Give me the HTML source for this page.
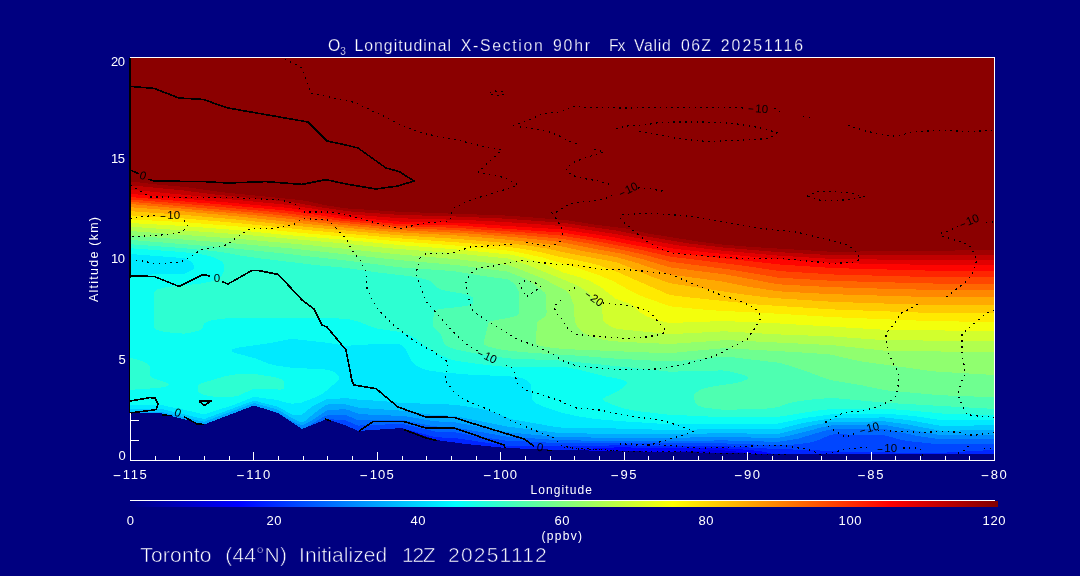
<!DOCTYPE html>
<html lang="en"><head><meta charset="utf-8"><title>O3 Longitudinal X-Section</title>
<style>html,body{margin:0;padding:0;background:#000080;overflow:hidden}svg{display:block}text{font-family:"Liberation Sans",sans-serif;fill:#fff;stroke:#000080;stroke-width:0}.t1 text{stroke-width:.25px}.t2 text{stroke-width:.6px}</style></head>
<body>
<svg width="1080" height="576" viewBox="0 0 1080 576" shape-rendering="crispEdges">
<rect width="1080" height="576" fill="#000080"/>
<g><rect x="130" y="57" width="865" height="403" fill="#0000a0"/>
<path fill="#0000c1" d="M130,57L994,57L994,459L130,459Z"/>
<path fill="#0000e2" d="M130,57L994,57L994,459L733.1,459L733,457L731.6,455L726,453.2L722,452.9L707.1,455L705.9,457L705.9,459L130,459Z"/>
<path fill="#0004ff" d="M130,57L994,57L994,459L754,459L753.8,457L752.5,455L746.7,453L732.3,451L722,450.3L682,450.9L668,452.2L616,451.3L611,453L610.1,455L610.1,459L130,459Z"/>
<path fill="#0025ff" d="M130,57L994,57L994,459L774.9,459L774.8,457L773.7,455L769.6,453L759.2,451L740,449.2L722,448.2L616,447.4L582.2,449L571.2,451L568.5,453L568.3,459L130,459Z"/>
<path fill="#0046ff" d="M130,57L994,57L994,449.9L940,452.9L900,452.6L832,451.4L814,450.1L778,449.1L724,446.1L616,445.4L562,446.3L508,445.9L454,437.9L436,437.3L402,428L358,431.3L346,427.2L344.7,429L344.6,459L130,459Z"/>
<path fill="#0067ff" d="M130,57L994,57L994,443.8L938,444.2L908,441.1L900,439.5L884,435.1L834,434.3L830.2,435L818,440.3L810,442.5L798,444.2L780,445.5L724,443.4L560,443.2L506,440.6L474,435.8L454,432.1L436,431.7L402,423.8L358,425.6L346,420.5L330,419.2L328,419.4L326,420.4L323.8,423L323.5,459L130,459Z"/>
<path fill="#0088ff" d="M130,57L994,57L994,438.9L940,439.2L918,436.1L886,429.2L834,429L823.8,431L798,438.7L778,441.9L724,440.4L668,441L562,440.4L506,436.5L454,427.2L434,426.4L402,419.9L360,420.4L356,419.4L346,415L328,415.1L324,416.6L309.8,425L304.5,429L302.9,431L302.6,459L130,459Z"/>
<path fill="#00a9ff" d="M130,57L994,57L994,434.6L940,435L886,425.2L836,425.3L832,425.4L823.3,427L790,435.6L778,438L724,437L670,437.8L562,437.4L508,432.3L456,422.5L434,421.2L404,415.9L380,415.2L360,414L356,413L348,409.8L344,409.1L328,410.3L326,411.1L310.8,421L302,425.4L294,422.1L278,412.8L271.8,411L262,409.6L260,409.7L257.8,411L257.7,459L130,459Z"/>
<path fill="#00caff" d="M130,57L994,57L994,430.2L940,430.7L908,424.5L884,421.3L830,422.2L812,425.4L780,433.5L776,433.9L724,433.2L670,434.2L562,433.3L508,426.7L454,415.8L434,415L402,410.7L360,407.9L344,404.1L330,404.1L326,404.9L319.8,409L304.9,421L302,422.3L298,421.2L292,418.2L278,409.7L254,403L204,421.8L160,411.6L130,412.6Z"/>
<path fill="#00eaff" d="M130,57L994,57L994,425.4L940,425.7L910,420.3L884,417.4L830,418.6L804,422.8L780,428.9L776,429.5L724,429L670,430L616,428.5L564,427.8L556,427L510.6,419L496,413.1L488,410.6L478,408.3L462,405.7L452,404.6L400,402.8L382,401L358,399.7L346,398.2L326,399.3L312,406.6L302,414.6L298,415.4L292,414.7L280,407.8L276,406.2L254,400.6L204,419.1L160,408.6L130,408.6Z"/>
<path fill="#0cfff3" d="M130,57L994,57L994,420.5L940,419.9L912,415.8L884,413.5L830,414.5L804,418.1L776,424L670,424.3L618.2,421L595.6,419L578,416.3L562,412.9L544.1,407L536,403.3L533,401L531.7,399L531.3,385L527.6,381L524.5,379L522,378.3L516.6,377L510,376.4L468,374.5L442,372.4L430,370.7L422,368.6L418,366.8L413.2,363L410,358.5L405.8,349L404,347L400,344.4L396,344L368,344.5L346,345.8L329.5,343L292,338.8L268,343.4L238,347.6L232.7,349L231.2,351L236,353.2L256,358.5L266.9,363L273.1,365L292,367.8L324,369.3L330,370.4L334,371.7L338,374.9L339,377L339,379L337.6,381L323.6,393L315.8,397L302,402.5L292,403.8L286,402.6L278,400.1L254,396.9L233.4,405L204,414.4L184,409.7L162,405.2L130,405.2L130,275L184,273.8L190.6,271L193.4,269L194.4,267L193.8,265L192.4,263L190,261L184,258.1L130,254Z"/>
<path fill="#2dffd2" d="M130,57L994,57L994,415.1L942,413.5L914,410.8L886,408.8L836,408.7L820,410.2L776,417.2L722,417.2L668,414.6L636.8,411L625.8,409L616,406L604.2,401L602.8,399L605.3,397L618,391.1L622,388.3L626,384.4L627,383L626,381L619.9,379L604,376.1L576.3,369L564,366.9L508,367.2L478,364L454,360.4L446,357.7L438,353.8L423.5,345L416,338.6L408,334.4L400,332L379.2,329L372,327L360,322.1L348,319.1L336,318.3L306,317.7L234,317.8L219.2,319L208.5,321L204.7,323L201.8,329L197.7,331L188.6,333L184,333.6L173.9,333L164,331.8L158,330.3L155.1,329L154,327L154,295L154.8,291L158.3,289L167.2,287L200,283.7L213.1,281L218,278.8L222,275.3L224.1,271L224.5,267L223.2,263L221.3,261L212.7,257L205.4,255L184,252.2L130,248.2ZM130,359L130,357.7L135.5,359L144,362L148,364.2L149.1,365L150,367L150.1,375L151.2,377L155.2,379L167.1,383L169,385L166,386.7L164,387.2L146,388.9L130,389.8ZM231.2,375L238,374L254,373.9L273.7,377L281.2,379L283.9,381L284,389L280,389.6L254,388.6L238,395.9L228,397.4L216,397.1L204.2,395L199.7,393L198.1,391L198,387L198.5,385L202.3,383L222.2,377Z"/>
<path fill="#4effb1" d="M130,57L994,57L994,408.9L888.8,403L832,397.9L812,399.5L798,401.3L788,403.4L778,407.1L766,408.6L724,409.9L704,407.5L696.9,405L695.4,403L693.6,397L693.7,395L695.2,393L700,390L706,387.9L714,386.2L734,383.4L742,381.5L746,379.9L747.7,379L747.9,377L743.9,375L736.6,373L726,370.7L722,370.4L670,371.7L564,360.7L508,358.4L476,353.5L456,349.5L449,347L445.5,345L444,343L441,335L439.5,333L433.2,327L432.8,323L434.3,311L439.1,309L458.7,307L470.8,305L473.2,303L473.3,299L472.4,297L468.5,295L459.5,293L446.4,291L439.4,289L436.4,287L430.2,281L425.1,279L412,276.5L374,272L346,267.9L318,265.3L258,258.1L240,255.5L227.9,253L212.8,251L184,248.2L130,244.2Z"/>
<path fill="#6fff90" d="M130,57L994,57L994,397.3L940,395.2L886,390.3L862,385.4L830,380L802,369.7L780.7,363L730.4,357L722,356.6L694,359.8L668,361.4L616,358.7L580,355.8L533.5,353L510,350.9L498.2,349L489.3,347L484.6,345L483.6,343L488.4,323L491.2,321L512.9,317L517.9,315L519.3,313L519.3,295L518.4,291L515.6,285L510.9,281L508,279.4L482,275.8L452.7,271L400,267.4L350.4,261L279.3,253L220,247.1L130,239.9Z"/>
<path fill="#90ff6f" d="M130,57L994,57L994,375L934,371.4L864,361.8L850,359.1L832,354.7L811.2,353L724,348.1L668,353.3L563.2,349L545.8,347L537.4,345L535.6,343L537.1,323L538.4,321L544.4,317L546.1,315L546.6,313L546.1,295L545.2,293L535.3,285L525.8,279L508,271.7L456,265L400,260.2L292,248.5L232,243.2L130,235.5Z"/>
<path fill="#b1ff4e" d="M130,57L994,57L994,352.2L886,350.8L832,345.1L726,340.1L670,344L622,341.8L610,340.8L599.5,339L590,336.1L584,333L579.2,329L576.3,325L574.8,321L573.7,305L570.2,295L569.1,293L566.5,291L543.8,279L520,269.4L508,265.1L458,259.3L400,254.5L307.7,245L238,238.8L130,231Z"/>
<path fill="#d2ff2d" d="M130,57L994,57L994,340.9L886,340.3L832,336.4L778,334.4L724,331.3L670,334.2L618,329L611.8,327L605.1,323L603.5,321L602.9,319L602,307L601.3,305L593.6,299L588.8,293L583.3,289L576,285L567.1,281L527.3,265L508,258.5L454,253.2L390,248.3L344,243.5L238,234.2L130,226.7Z"/>
<path fill="#f3ff0c" d="M130,57L994,57L994,331L886,329.9L778,323.4L724,321L669.7,323L656,320.1L646,316.1L640,312.2L632,305L627.8,303L616,298.9L600.7,287L590,281L579.2,277L562,272.1L546.6,265L535.6,261L521.8,257L510,254.5L454,249.2L400,245.1L346,239.9L284,234.8L238,230.2L182,225.9L130,223Z"/>
<path fill="#ffea00" d="M130,57L994,57L994,321.7L938,321.4L832,317.1L778,313.7L710,310.2L672,306.6L668,305.6L642,296.3L631,291L612.9,281L598,274.8L572,266.2L542,257.3L512,251L454,245.4L400,241.5L298,232.6L238,226.5L184,222.1L130,219.4Z"/>
<path fill="#ffca00" d="M130,57L994,57L994,313.5L940,313.3L832,309.4L758,304.6L692,297.7L672,295.3L668,294.2L616,271.4L598.3,265L590.5,263L562,257.4L540,252L518,248.1L506,246.6L466,243L398,238.2L318,231.1L238,223.1L186,218.6L130,215.4Z"/>
<path fill="#ffa900" d="M130,57L994,57L994,305.4L940,305.3L834,301.9L770,297.8L740,294L670,283.2L652,276.8L623.8,265L616,262.2L570,253.6L546,248.4L526,245.3L506,243L456,238.8L398,235.2L316,227.8L238,219.7L184,214.9L130,211.2Z"/>
<path fill="#ff8800" d="M130,57L994,57L994,297.4L938,297.3L832,294.2L778,291.3L748,286.7L722,281.5L670,274.5L637.1,263L616.3,257L582,250.9L560,246L546,243.9L500.4,239L454,235.3L400,232.5L370,230L312,224.5L238,216.4L184,211.4L130,207.2Z"/>
<path fill="#ff6700" d="M130,57L994,57L994,290.1L940,290.1L884,288.7L832,287.2L778,284.3L726,274.5L670,267.4L642.1,259L620,253.3L594,248.8L560,241.9L512.9,237L461,233L400,230.2L378,228.4L320,222.8L292,219.1L238,213.6L130,204Z"/>
<path fill="#ff4600" d="M130,57L994,57L994,283.7L940,283.7L834,280.9L778,277.6L732,269.8L670,261.7L645.2,255L628,251.1L586.3,243L562,238.9L521.7,235L460,230.5L392,227.5L330,221.6L292,216.5L256,212.8L130,201.7Z"/>
<path fill="#ff2500" d="M130,57L994,57L994,277.3L940,277.3L834,274.5L780,271.1L740,265.2L670,256.6L646.1,251L622,246.2L592,240.5L562,235.7L526,232.6L456,227.8L398,226.1L338,220.4L292,213.9L272,211.8L206,205.7L130,199.4Z"/>
<path fill="#ff0400" d="M130,57L994,57L994,270.9L940,270.9L834,268.1L780,264.5L672,252.5L608,239.9L562,232.6L458,225.5L400,224.2L344.2,219L294,211.5L278,209.8L212,203.7L130,197Z"/>
<path fill="#e20000" d="M130,57L994,57L994,265.1L940,265.1L834,263L778,259.2L702,251.9L672,248.4L612,237L562,229.4L456,222.7L400,221.6L346,216.8L288,207.9L130,193.8Z"/>
<path fill="#c10000" d="M130,57L994,57L994,259.9L940,260.1L834,259.1L778,255.6L718,250.2L678,245.4L614,233.8L562,226L508,222.2L468,220.1L400,218.3L348,214.2L290,205.1L130,189.6Z"/>
<path fill="#a00000" d="M130,57L994,57L994,254.6L834,255.3L778,252.1L724,247.6L690,243.6L638.4,235L616,230.5L562,222.7L506,218.7L454,216.4L400,214.9L348,211.3L318.8,207L292,202.1L212,194.2L182,190.3L130,185.3Z"/>
<path fill="#8b0000" d="M130,57L994,57L994,250.1L832,251.8L752.6,247L722,244.5L700,241.8L648,233.5L628,228.8L597.7,225L566,220.1L508,215.6L400,211.8L346,208.4L324.1,205L310,201.7L300,200L222,192.2L186,187L161.4,185L130,181.4Z"/>
<path fill="#000080" d="M130,413L160,413L204,424.5L254,405.5L278,413L302,429L327,419L346,425.5L358,431L402,428L436,440L466,444L506,448L562,450L670,452L778,454L994,454.5L995,461 L130,461 Z"/></g>
<g fill="none" stroke="#000" stroke-width="1.6" stroke-linejoin="round">
<path d="M130,86.4L154,88.4L179,98L203,99.4L228,108L308,122L327,141L346,145L358,148L386,168L399,171.5L414,181L398,186L376,189L346,184L326,179.6L302,184.4L266,181.6L228,183L204,181.6L154,181L148,179.2M130,170L139,173.7M130,276L154,276.4L179,286.4L203,274.6L210,276M222,281.6L228,284L252,270.4L258,270.4L278,274.4L290,287L302,300L314,309L322,325L327,327L346,350L352,381L354,385L376,388.6L398,407L426,417L454,417.4L466,421.4L524,439L534,446M547,450.4L552,450.4M359,431L373,421.6L404,421.6L426,428L454,428L504,445L505,448M404,429.6L426,438L437,440.6M130,401L150,397.6L155,398L158,404L156,409.6L130,413M199,401L211,401L204,405.6L199,401M162,415L172,415.6M184,416.6L197,424L204,424.4M325,419L331,421"/>
</g>
<g fill="none" stroke="#000" stroke-width="1.2" stroke-dasharray="1.5 4.3">
<path d="M285,59L302,68L311,93L321,95L339,99.4L350,101.4L355,102.6L369,109.4L382,115.4L392,120.6L404,126.4L423,133.4L444,137.4L457,140L487,147.4L502,150L478,172L506,178L518,185L510,188L468,201L454,208L452,212L450,221L426,223L400,228.4L386,226L366,220L346,215L330,212L304,212L300,209L296,205L282,200L228,197.4L150,197L139,190L130,185M490,93L494,91L502,91.5L505,93.5L500,96L493,95L490,93M513,126L527,120.6L543,113.6L561,112L565,110L575,106L586,107.6L626,108L670,107.4L726,107.4L745,108M774,108L778,111.4L784,112.4M803,116.4L814,118.4M848,125.4L858,128.4L867,131.4L877,133.4L887,135.4L897,136.4L907,133.4L916,131.4L926,131L945,130.6L971,131.4L994,130.6M520,127L534,128.4L548,131.4L562,137L565,139L579,145M594,149.4L604,152L594,155L582,159L572,163L566,169L571,175L586,179L599,181L610,184.4M638,188L650,188.6L664,191.4M612,195L604,199.4L588,201.6L575,202.4L565,206.4L557,212L552,213L558,221L562,230L564,238M616,128.4L630,125.4L644,125L660,122.4L672,122L704,122L734,123.4L758,127.4L777,132.4L769,138.4L756,139.4L736,140.4L706,141.4L676,138.4L662,135.4L648,133L636,131M130,218.4L156,215M184,220.6L188,226L182,232L170,234.4L130,237M130,260L142,261L156,263.6L180,262.4L192,256L200,250L226,245L250,228.6L270,228.6L294,224.4L302,218.4L328,220L338,230L346,239L352,250L360,260L366,272L367,289L376,307L392,324L414,341L434,352L448,362L445,380L454,392L463,399L476,404.4L494,412L516,423L554,438L562,446L578,449L598,449.6L614,450.6M420,258L426,253.6L432,253.4L446,254L456,252L470,247L512,244.4M526,242.4L550,246.4L562,241M420,258L416,273L419,282L421,287L426,301L438,315L456,335L470,347L478,351M506,365L514,369L517,383L526,390L558,400L576,408L596,409.4L616,413.4L631,416.4L645,418L664,421L675,424.4L694,431.4L685,434.4L666,440L650,445L620,443.6M620,443.6L623,445.4L631,443.6L633,445.4L641,444.4L645,445.4L651,444.4L656,443.6L661,445.4L671,445.4L681,446.4L691,447.4L701,448.4L716,447.4L726,447.4L741,446.4L771,445.4L786,446L801,448.4L811,450.4L816,452.4L821,455M564,447.4L579,448.4L599,449.4L614,450.4L624,451.4L679,451.4L699,452.4L719,453.4L749,453.4L759,454.4L790,454.4M622,214.4L628,214.4L642,213.4L652,213.4L666,214.4L682,215.4L698,217.6L728,223L740,225.4L770,229.4L796,232L811,235.6L835,241.4L849,245.4L856,252L860,259.4L852,262.4L832,263.4L791,259.4L778,258.4L742,258.4L710,256.4L686,254.4L672,253L658,247.6L645,240L626,224.4L620,218L622,214.4M807,196.4L815,192L824,191.4L839,192L849,193L855,194.4L861,196.4L865,196.4L856,198L846,200L821,200.4L812,197.6L807,196.4M572,265L582,266L588,267.4L602,269.4L632,270L652,272L671,274.4L680,278.4L690,282.4L703,288L722,295.4L741,301.4L750,305.4L759,311.4L761,318L755,328L747,339.4L736,345L716,355.4L702,360L682,365L658,369L622,370L594,367.4L578,366.4L564,361.4L551,353L538,347L519,340L502,330L484,319L473,311L468,297L466,282L470,274L477,268.4L496,265.6L520,260.4L554,264L572,265M569,291L576,287M603,303L618,304.6L628,305.4L644,309.4L651,313L655,318L665,329.6L665,332.6L656,335.4L646,337L626,338.4L611,337.4L586,335.4L576,334.4L568,329.4L561,318L556,313L554,306L560,301L562,298M519,284L525,280.6L530,281.6L538,283.6L541,287L538,289L526,297L522,289L519,284M986,222.4L994,222M958,226L950,230.4L940,233.4L943,236.4L953,239.4L967,244.4L971,247.4L975,256L977,260L975,265L972,274.4L966,281.4L958,288L946,297M918,304.4L909,309L900,314L898,319L888,331L886,334.4L886,339.4L889,354L893,363L898,372L899,376.4L898,386.4L896,396L893,399.4L887,402.4L874,408L860,411L844,412.4L835,417L826,421.4L826,424.4L830,428L842,435L845,437.4L858,432.4M878,430.4L898,431.4L923,432.4L948,431.4L958,432.4L967,435L976,435L994,432.4M994,310L985,314.4L977,321.4L966,330.4L962,334.4L962,355L964,364.4L965,374.4L961,383L958,392.4L959,398L961,402.4L964,410L967,414.4L972,415.4L982,416.4L994,417M826,454L831,453L844,449.4L859,448L869,447.4M903,448L918,448L921,450L923,455.4M958,453.4L963,451L967,449L969,444.4M984,448.4L994,449"/>
</g>
<g style="font-size:11.5px" text-anchor="middle">
<text x="143" y="179.5" transform="rotate(18 143 175.5)" style="fill:#000;stroke:none">0</text>
<text x="217" y="282" transform="rotate(0 217 278)" style="fill:#000;stroke:none">0</text>
<text x="178" y="416.5" transform="rotate(20 178 412.5)" style="fill:#000;stroke:none">0</text>
<text x="540" y="451" transform="rotate(10 540 447)" style="fill:#000;stroke:none">0</text>
<text x="170" y="219" transform="rotate(0 170 215)" style="fill:#000;stroke:none"><tspan textLength="6.5" lengthAdjust="spacingAndGlyphs">-</tspan><tspan dx="1">10</tspan></text>
<text x="758" y="112.5" transform="rotate(4 758 108.5)" style="fill:#000;stroke:none"><tspan textLength="6.5" lengthAdjust="spacingAndGlyphs">-</tspan><tspan dx="1">10</tspan></text>
<text x="628" y="193.5" transform="rotate(-25 628 189.5)" style="fill:#000;stroke:none"><tspan textLength="6.5" lengthAdjust="spacingAndGlyphs">-</tspan><tspan dx="1">10</tspan></text>
<text x="969" y="225" transform="rotate(-22 969 221)" style="fill:#000;stroke:none"><tspan textLength="6.5" lengthAdjust="spacingAndGlyphs">-</tspan><tspan dx="1">10</tspan></text>
<text x="594" y="302" transform="rotate(35 594 298)" style="fill:#000;stroke:none"><tspan textLength="6.5" lengthAdjust="spacingAndGlyphs">-</tspan><tspan dx="1">20</tspan></text>
<text x="487" y="360" transform="rotate(25 487 356)" style="fill:#000;stroke:none"><tspan textLength="6.5" lengthAdjust="spacingAndGlyphs">-</tspan><tspan dx="1">10</tspan></text>
<text x="869" y="432" transform="rotate(-15 869 428)" style="fill:#000;stroke:none"><tspan textLength="6.5" lengthAdjust="spacingAndGlyphs">-</tspan><tspan dx="1">10</tspan></text>
<text x="887" y="451.5" transform="rotate(0 887 447.5)" style="fill:#000;stroke:none"><tspan textLength="6.5" lengthAdjust="spacingAndGlyphs">-</tspan><tspan dx="1">10</tspan></text>
</g>
<rect x="129" y="58" width="2" height="220" fill="#000"/>
<rect x="129" y="278" width="1.2" height="135" fill="#000"/>
<g fill="#fff">
<rect x="130" y="57" width="865" height="1"/>
<rect x="994" y="57" width="1" height="404"/>
<rect x="130" y="460" width="865" height="1"/>
<rect x="130" y="413" width="1" height="48"/>
<rect x="155" y="456" width="1" height="4"/>
<rect x="179" y="456" width="1" height="4"/>
<rect x="204" y="456" width="1" height="4"/>
<rect x="229" y="456" width="1" height="4"/>
<rect x="253" y="452" width="1" height="8"/>
<rect x="278" y="456" width="1" height="4"/>
<rect x="303" y="456" width="1" height="4"/>
<rect x="327" y="456" width="1" height="4"/>
<rect x="352" y="456" width="1" height="4"/>
<rect x="377" y="452" width="1" height="8"/>
<rect x="402" y="456" width="1" height="4"/>
<rect x="426" y="456" width="1" height="4"/>
<rect x="451" y="456" width="1" height="4"/>
<rect x="476" y="456" width="1" height="4"/>
<rect x="500" y="452" width="1" height="8"/>
<rect x="525" y="456" width="1" height="4"/>
<rect x="550" y="456" width="1" height="4"/>
<rect x="574" y="456" width="1" height="4"/>
<rect x="599" y="456" width="1" height="4"/>
<rect x="624" y="452" width="1" height="8"/>
<rect x="648" y="456" width="1" height="4"/>
<rect x="673" y="456" width="1" height="4"/>
<rect x="698" y="456" width="1" height="4"/>
<rect x="722" y="456" width="1" height="4"/>
<rect x="747" y="452" width="1" height="8"/>
<rect x="772" y="456" width="1" height="4"/>
<rect x="797" y="456" width="1" height="4"/>
<rect x="821" y="456" width="1" height="4"/>
<rect x="846" y="456" width="1" height="4"/>
<rect x="871" y="452" width="1" height="8"/>
<rect x="895" y="456" width="1" height="4"/>
<rect x="920" y="456" width="1" height="4"/>
<rect x="945" y="456" width="1" height="4"/>
<rect x="969" y="456" width="1" height="4"/>
<rect x="130" y="440" width="9" height="1"/>
<rect x="130" y="420" width="9" height="1"/>
</g>
<defs><linearGradient id="cb" x1="0" x2="1" y1="0" y2="0">
<stop offset="0" stop-color="#000080"/>
<stop offset="0.025" stop-color="#000099"/>
<stop offset="0.05" stop-color="#0000b2"/>
<stop offset="0.075" stop-color="#0000cc"/>
<stop offset="0.1" stop-color="#0000e6"/>
<stop offset="0.125" stop-color="#0000ff"/>
<stop offset="0.15" stop-color="#001aff"/>
<stop offset="0.175" stop-color="#0033ff"/>
<stop offset="0.2" stop-color="#004dff"/>
<stop offset="0.225" stop-color="#0066ff"/>
<stop offset="0.25" stop-color="#0080ff"/>
<stop offset="0.275" stop-color="#0099ff"/>
<stop offset="0.3" stop-color="#00b2ff"/>
<stop offset="0.325" stop-color="#00ccff"/>
<stop offset="0.35" stop-color="#00e5ff"/>
<stop offset="0.375" stop-color="#00ffff"/>
<stop offset="0.4" stop-color="#1affe5"/>
<stop offset="0.425" stop-color="#33ffcc"/>
<stop offset="0.45" stop-color="#4dffb2"/>
<stop offset="0.475" stop-color="#66ff99"/>
<stop offset="0.5" stop-color="#80ff80"/>
<stop offset="0.525" stop-color="#99ff66"/>
<stop offset="0.55" stop-color="#b3ff4c"/>
<stop offset="0.575" stop-color="#ccff33"/>
<stop offset="0.6" stop-color="#e5ff1a"/>
<stop offset="0.625" stop-color="#ffff00"/>
<stop offset="0.65" stop-color="#ffe500"/>
<stop offset="0.675" stop-color="#ffcc00"/>
<stop offset="0.7" stop-color="#ffb300"/>
<stop offset="0.725" stop-color="#ff9900"/>
<stop offset="0.75" stop-color="#ff8000"/>
<stop offset="0.775" stop-color="#ff6600"/>
<stop offset="0.8" stop-color="#ff4c00"/>
<stop offset="0.825" stop-color="#ff3300"/>
<stop offset="0.85" stop-color="#ff1a00"/>
<stop offset="0.875" stop-color="#ff0000"/>
<stop offset="0.9" stop-color="#e50000"/>
<stop offset="0.925" stop-color="#cc0000"/>
<stop offset="0.95" stop-color="#b30000"/>
<stop offset="0.975" stop-color="#990000"/>
<stop offset="1" stop-color="#800000"/>
</linearGradient></defs>
<rect x="130" y="501" width="868" height="6" fill="url(#cb)"/>
<rect x="130" y="500" width="865" height="1" fill="#fff"/>
<g class="t1">
<text y="50.5" style="font-size:15.8px"><tspan x="328">O</tspan><tspan dy="4" style="font-size:10px">3</tspan><tspan dy="-4"> </tspan><tspan x="354.4" textLength="96.6" lengthAdjust="spacing">Longitudinal</tspan> <tspan x="460.8" textLength="81.9" lengthAdjust="spacing">X-Section</tspan> <tspan x="553" textLength="37" lengthAdjust="spacing">90hr</tspan> <tspan x="608.9" textLength="16.6" lengthAdjust="spacing">Fx</tspan> <tspan x="634" textLength="36.7" lengthAdjust="spacing">Valid</tspan> <tspan x="681" textLength="30" lengthAdjust="spacing">06Z</tspan> <tspan x="720.8" textLength="82.2" lengthAdjust="spacing">20251116</tspan></text>
</g>
<g>
<text x="112.5" y="479" style="font-size:13px"><tspan textLength="9" lengthAdjust="spacingAndGlyphs">-</tspan><tspan dx="1.3" textLength="24" lengthAdjust="spacing">115</tspan></text>
<text x="235.929" y="479" style="font-size:13px"><tspan textLength="9" lengthAdjust="spacingAndGlyphs">-</tspan><tspan dx="1.3" textLength="24" lengthAdjust="spacing">110</tspan></text>
<text x="359.357" y="479" style="font-size:13px"><tspan textLength="9" lengthAdjust="spacingAndGlyphs">-</tspan><tspan dx="1.3" textLength="24" lengthAdjust="spacing">105</tspan></text>
<text x="482.786" y="479" style="font-size:13px"><tspan textLength="9" lengthAdjust="spacingAndGlyphs">-</tspan><tspan dx="1.3" textLength="24" lengthAdjust="spacing">100</tspan></text>
<text x="610.214" y="479" style="font-size:13px"><tspan textLength="9" lengthAdjust="spacingAndGlyphs">-</tspan><tspan dx="1.3" textLength="16" lengthAdjust="spacing">95</tspan></text>
<text x="733.643" y="479" style="font-size:13px"><tspan textLength="9" lengthAdjust="spacingAndGlyphs">-</tspan><tspan dx="1.3" textLength="16" lengthAdjust="spacing">90</tspan></text>
<text x="857.071" y="479" style="font-size:13px"><tspan textLength="9" lengthAdjust="spacingAndGlyphs">-</tspan><tspan dx="1.3" textLength="16" lengthAdjust="spacing">85</tspan></text>
<text x="980.5" y="479" style="font-size:13px"><tspan textLength="9" lengthAdjust="spacingAndGlyphs">-</tspan><tspan dx="1.3" textLength="16" lengthAdjust="spacing">80</tspan></text>
<text x="530.5" y="494" text-anchor="start" style="font-size:12px" textLength="61.5" lengthAdjust="spacing">Longitude</text>
</g>
<g>
<text x="118.5" y="460.3" text-anchor="start" style="font-size:13px">0</text>
<text x="118.5" y="364.05" text-anchor="start" style="font-size:13px">5</text>
<text x="111" y="263.3" text-anchor="start" style="font-size:13px" textLength="14" lengthAdjust="spacing">10</text>
<text x="111" y="162.55" text-anchor="start" style="font-size:13px" textLength="14" lengthAdjust="spacing">15</text>
<text x="111" y="65.7" text-anchor="start" style="font-size:13px" textLength="14" lengthAdjust="spacing">20</text>
<text transform="translate(98 302) rotate(-90)" style="font-size:12.5px" textLength="85" lengthAdjust="spacing">Altitude (km)</text>
</g>
<g>
<text x="126.75" y="524.5" text-anchor="start" style="font-size:13px">0</text>
<text x="266.5" y="524.5" text-anchor="start" style="font-size:13px" textLength="15" lengthAdjust="spacing">20</text>
<text x="410.5" y="524.5" text-anchor="start" style="font-size:13px" textLength="15" lengthAdjust="spacing">40</text>
<text x="554.5" y="524.5" text-anchor="start" style="font-size:13px" textLength="15" lengthAdjust="spacing">60</text>
<text x="698.5" y="524.5" text-anchor="start" style="font-size:13px" textLength="15" lengthAdjust="spacing">80</text>
<text x="838.5" y="524.5" text-anchor="start" style="font-size:13px" textLength="23" lengthAdjust="spacing">100</text>
<text x="982.5" y="524.5" text-anchor="start" style="font-size:13px" textLength="23" lengthAdjust="spacing">120</text>
<text x="541.4" y="539.5" text-anchor="start" style="font-size:12px" textLength="40.6" lengthAdjust="spacing">(ppbv)</text>
</g>
<g class="t2">
<text y="562" style="font-size:21px"><tspan x="140.2" textLength="71.3" lengthAdjust="spacing">Toronto</tspan> <tspan x="225.3" textLength="61.6" lengthAdjust="spacing">(44°N)</tspan> <tspan x="299" textLength="88.3" lengthAdjust="spacing">Initialized</tspan> <tspan x="402" textLength="33.7" lengthAdjust="spacing">12Z</tspan> <tspan x="448" textLength="98.8" lengthAdjust="spacing">20251112</tspan></text>
</g>
</svg>
</body></html>
